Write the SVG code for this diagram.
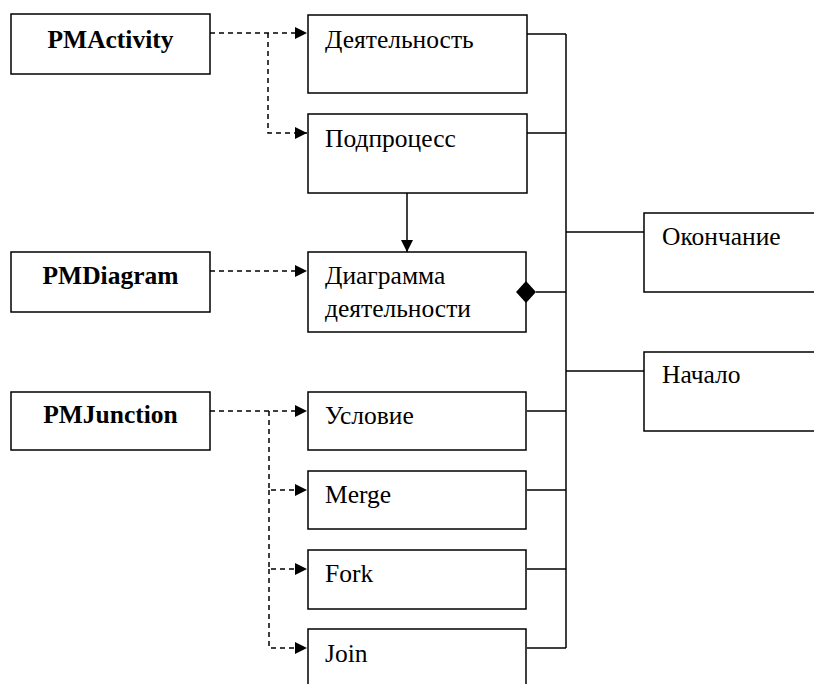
<svg xmlns="http://www.w3.org/2000/svg" width="814" height="684" viewBox="0 0 814 684">
<style>
.box{fill:#fff;stroke:#000;stroke-width:1.5}
.t{font-family:"Liberation Serif","Times New Roman",serif;font-size:25.5px;fill:#000}
.b{font-weight:bold;text-anchor:middle}
.dash{fill:none;stroke:#000;stroke-width:1.5;stroke-dasharray:5 4}
.ln{fill:none;stroke:#000;stroke-width:1.5}
</style>
<defs>
<marker id="arr" viewBox="0 0 12 12" refX="12" refY="6" markerWidth="12" markerHeight="12" markerUnits="userSpaceOnUse" orient="auto">
<path d="M0,0 L12,6 L0,12 Z" fill="#000"/>
</marker>
</defs>
<rect width="814" height="684" fill="#fff"/>
<g id="pmactivity"><rect class="box" x="11" y="14" width="199" height="60"/><text class="t b" x="110.5" y="48">PMActivity</text></g>
<g id="pmdiagram"><rect class="box" x="11" y="252" width="199" height="60"/><text class="t b" x="110.5" y="284">PMDiagram</text></g>
<g id="pmjunction"><rect class="box" x="11" y="392" width="199" height="58"/><text class="t b" x="110.5" y="423">PMJunction</text></g>
<g id="activity"><rect class="box" x="308" y="15" width="219" height="78"/><text class="t" x="325" y="48">Деятельность</text></g>
<g id="subprocess"><rect class="box" x="308" y="114" width="219" height="79"/><text class="t" x="325" y="147">Подпроцесс</text></g>
<g id="diagram"><rect class="box" x="308" y="252" width="218" height="80"/><text class="t" x="325" y="284">Диаграмма</text><text class="t" x="325" y="317">деятельности</text></g>
<g id="end"><rect class="box" x="644" y="213" width="180" height="79"/><text class="t" x="662" y="245">Окончание</text></g>
<g id="start"><rect class="box" x="644" y="352" width="180" height="79"/><text class="t" x="662" y="383">Начало</text></g>
<g id="condition"><rect class="box" x="308" y="392" width="218" height="58"/><text class="t" x="325" y="424">Условие</text></g>
<g id="merge"><rect class="box" x="308" y="471" width="218" height="58"/><text class="t" x="325" y="503">Merge</text></g>
<g id="fork"><rect class="box" x="308" y="550" width="218" height="59"/><text class="t" x="325" y="582">Fork</text></g>
<g id="join"><rect class="box" x="308" y="629" width="218" height="70"/><text class="t" x="325" y="662">Join</text></g>
<g id="connectors">
<path class="dash" d="M210,33 H307" marker-end="url(#arr)"/>
<path class="dash" d="M268,33 V133 H307" marker-end="url(#arr)"/>
<path class="dash" d="M210,271 H307" marker-end="url(#arr)"/>
<path class="dash" d="M210,411 H307" marker-end="url(#arr)"/>
<path class="dash" d="M269,411 V490 H307" marker-end="url(#arr)"/>
<path class="dash" d="M269,490 V569 H307" marker-end="url(#arr)"/>
<path class="dash" d="M269,569 V648 H307" marker-end="url(#arr)"/>
<path class="ln" d="M407,193 V252" marker-end="url(#arr)"/>
<path class="ln" d="M566,34 V648"/>
<path class="ln" d="M527,34 H566"/>
<path class="ln" d="M527,133 H566"/>
<path class="ln" d="M536,292 H566"/>
<path class="ln" d="M566,232 H644"/>
<path class="ln" d="M566,371 H644"/>
<path class="ln" d="M527,411 H566"/>
<path class="ln" d="M527,490 H566"/>
<path class="ln" d="M527,569 H566"/>
<path class="ln" d="M527,648 H566"/>
<path d="M516,292 L526,281 L536,292 L526,303 Z" fill="#000"/>
</g>
</svg>
